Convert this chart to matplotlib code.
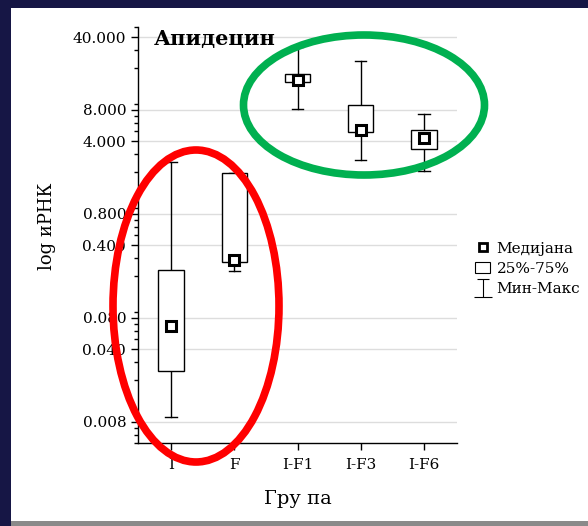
import numpy as np
import matplotlib
matplotlib.use("Agg")
import matplotlib.pyplot as plt
from matplotlib.patches import Ellipse, Rectangle
from matplotlib.lines import Line2D
from matplotlib.path import Path
from matplotlib.ticker import FixedLocator, LogLocator, NullFormatter

plt.rcParams['font.family'] = ['DejaVu Serif']

# data (log scale values)
groups = ["I", "F", "I-F1", "I-F3", "I-F6"]
mins = [0.0089, 0.226, 8.2, 2.65, 2.07]
q25 = [0.0247, 0.276, 14.9, 4.9, 3.37]
medians = [0.067, 0.285, 15.3, 5.1, 4.3]
q75 = [0.232, 1.98, 17.8, 8.9, 5.1]
maxs = [2.53, 1.98, 32.0, 23.7, 7.3]

yticks = [0.008, 0.04, 0.08, 0.4, 0.8, 4, 8, 40]
ytick_labels = ["0.008", "0.040", "0.080", "0.400", "0.800", "4.000", "8.000", "40.000"]

W, H = 588, 526
fig = plt.figure(figsize=(W / 100, H / 100), dpi=100)
fig.patch.set_facecolor("#161645")

# white slide area with grey strip at the bottom
fig.patches.append(Rectangle((11 / W, 0), 1 - 11 / W, 5 / H, transform=fig.transFigure,
                             facecolor="#8a8a8a", edgecolor="none", zorder=-5))
fig.patches.append(Rectangle((11 / W, 5 / H), 1 - 11 / W, (H - 8 - 5) / H, transform=fig.transFigure,
                             facecolor="white", edgecolor="none", zorder=-5))

ax = fig.add_axes([138 / W, 83 / H, (457 - 138) / W, (443 - 27) / H])
ax.set_facecolor("none")
ax.set_yscale("log")
ax.set_ylim(0.005, 50)
ax.set_xlim(0.48, 5.52)

pos = np.arange(1, len(groups) + 1)
bw = 0.4
cw = 0.18
for x, lo, a, m, b, hi in zip(pos, mins, q25, medians, q75, maxs):
    ax.plot([x, x], [lo, a], color="black", lw=1, zorder=3)
    ax.plot([x, x], [b, hi], color="black", lw=1, zorder=3)
    ax.plot([x - cw / 2, x + cw / 2], [lo, lo], color="black", lw=1, zorder=3)
    ax.plot([x - cw / 2, x + cw / 2], [hi, hi], color="black", lw=1, zorder=3)
    ax.add_patch(Rectangle((x - bw / 2, a), bw, b - a, facecolor="white",
                           edgecolor="black", lw=1, zorder=4))
    ax.plot(x, m, marker="s", ms=7, mfc="white", mec="black", mew=2.2, zorder=5)

ax.yaxis.set_major_locator(FixedLocator(yticks))
ax.set_yticklabels(ytick_labels)
ax.yaxis.set_minor_locator(LogLocator(base=10, subs=np.arange(2, 10)))
ax.yaxis.set_minor_formatter(NullFormatter())
ax.set_xticks(pos)
ax.set_xticklabels(groups)
ax.grid(axis="y", which="major", color="#dddddd", lw=1, zorder=0)
ax.set_axisbelow(True)

for s in ["top", "right"]:
    ax.spines[s].set_visible(False)
ax.spines["left"].set_linewidth(1)
ax.spines["bottom"].set_linewidth(1)
ax.tick_params(axis="both", which="major", length=5, width=1, labelsize=11, color="black")
ax.tick_params(axis="y", which="minor", length=3, width=1)
ax.tick_params(axis="x", pad=6)

ax.set_ylabel("log иРНК", fontsize=13)
ax.yaxis.set_label_coords(-0.258, 0.52)
ax.set_xlabel("Гру па", fontsize=14, labelpad=13)

ax.text(0.05, 0.97, "Апидецин", transform=ax.transAxes, fontsize=15, fontweight="bold",
        ha="left", va="center")

# legend: I-beam symbol for min-max
ibeam = Path([(-0.35, 0.5), (0.35, 0.5), (0, 0.5), (0, -0.5), (-0.5, -0.5), (0.5, -0.5)],
             [Path.MOVETO, Path.LINETO, Path.MOVETO, Path.LINETO, Path.MOVETO, Path.LINETO])
handles = [
    Line2D([], [], ls="none", marker="s", ms=6, mfc="white", mec="black", mew=2),
    Rectangle((0, 0), 1, 1, facecolor="white", edgecolor="black", lw=0.8),
    Line2D([], [], ls="none", marker=ibeam, ms=13, color="black", mew=0.8),
]
fig.legend(handles, ["Медијана", "25%-75%", "Мин-Макс"], loc="center left",
           bbox_to_anchor=(469 / W, 1 - 269 / H), frameon=False, fontsize=11,
           handlelength=1.0, handletextpad=0.4, labelspacing=0.42, borderaxespad=0)

# highlighted groups
fig.patches.append(Ellipse((196 / W, 1 - 306 / H), 166 / W, 312 / H, transform=fig.transFigure,
                           fill=False, edgecolor="#ff0000", lw=5.5, zorder=10))
fig.patches.append(Ellipse((364 / W, 1 - 105 / H), 241 / W, 140 / H, transform=fig.transFigure,
                           fill=False, edgecolor="#00b050", lw=5.5, zorder=10))

fig.savefig("out.png", dpi=100, facecolor=fig.get_facecolor())
